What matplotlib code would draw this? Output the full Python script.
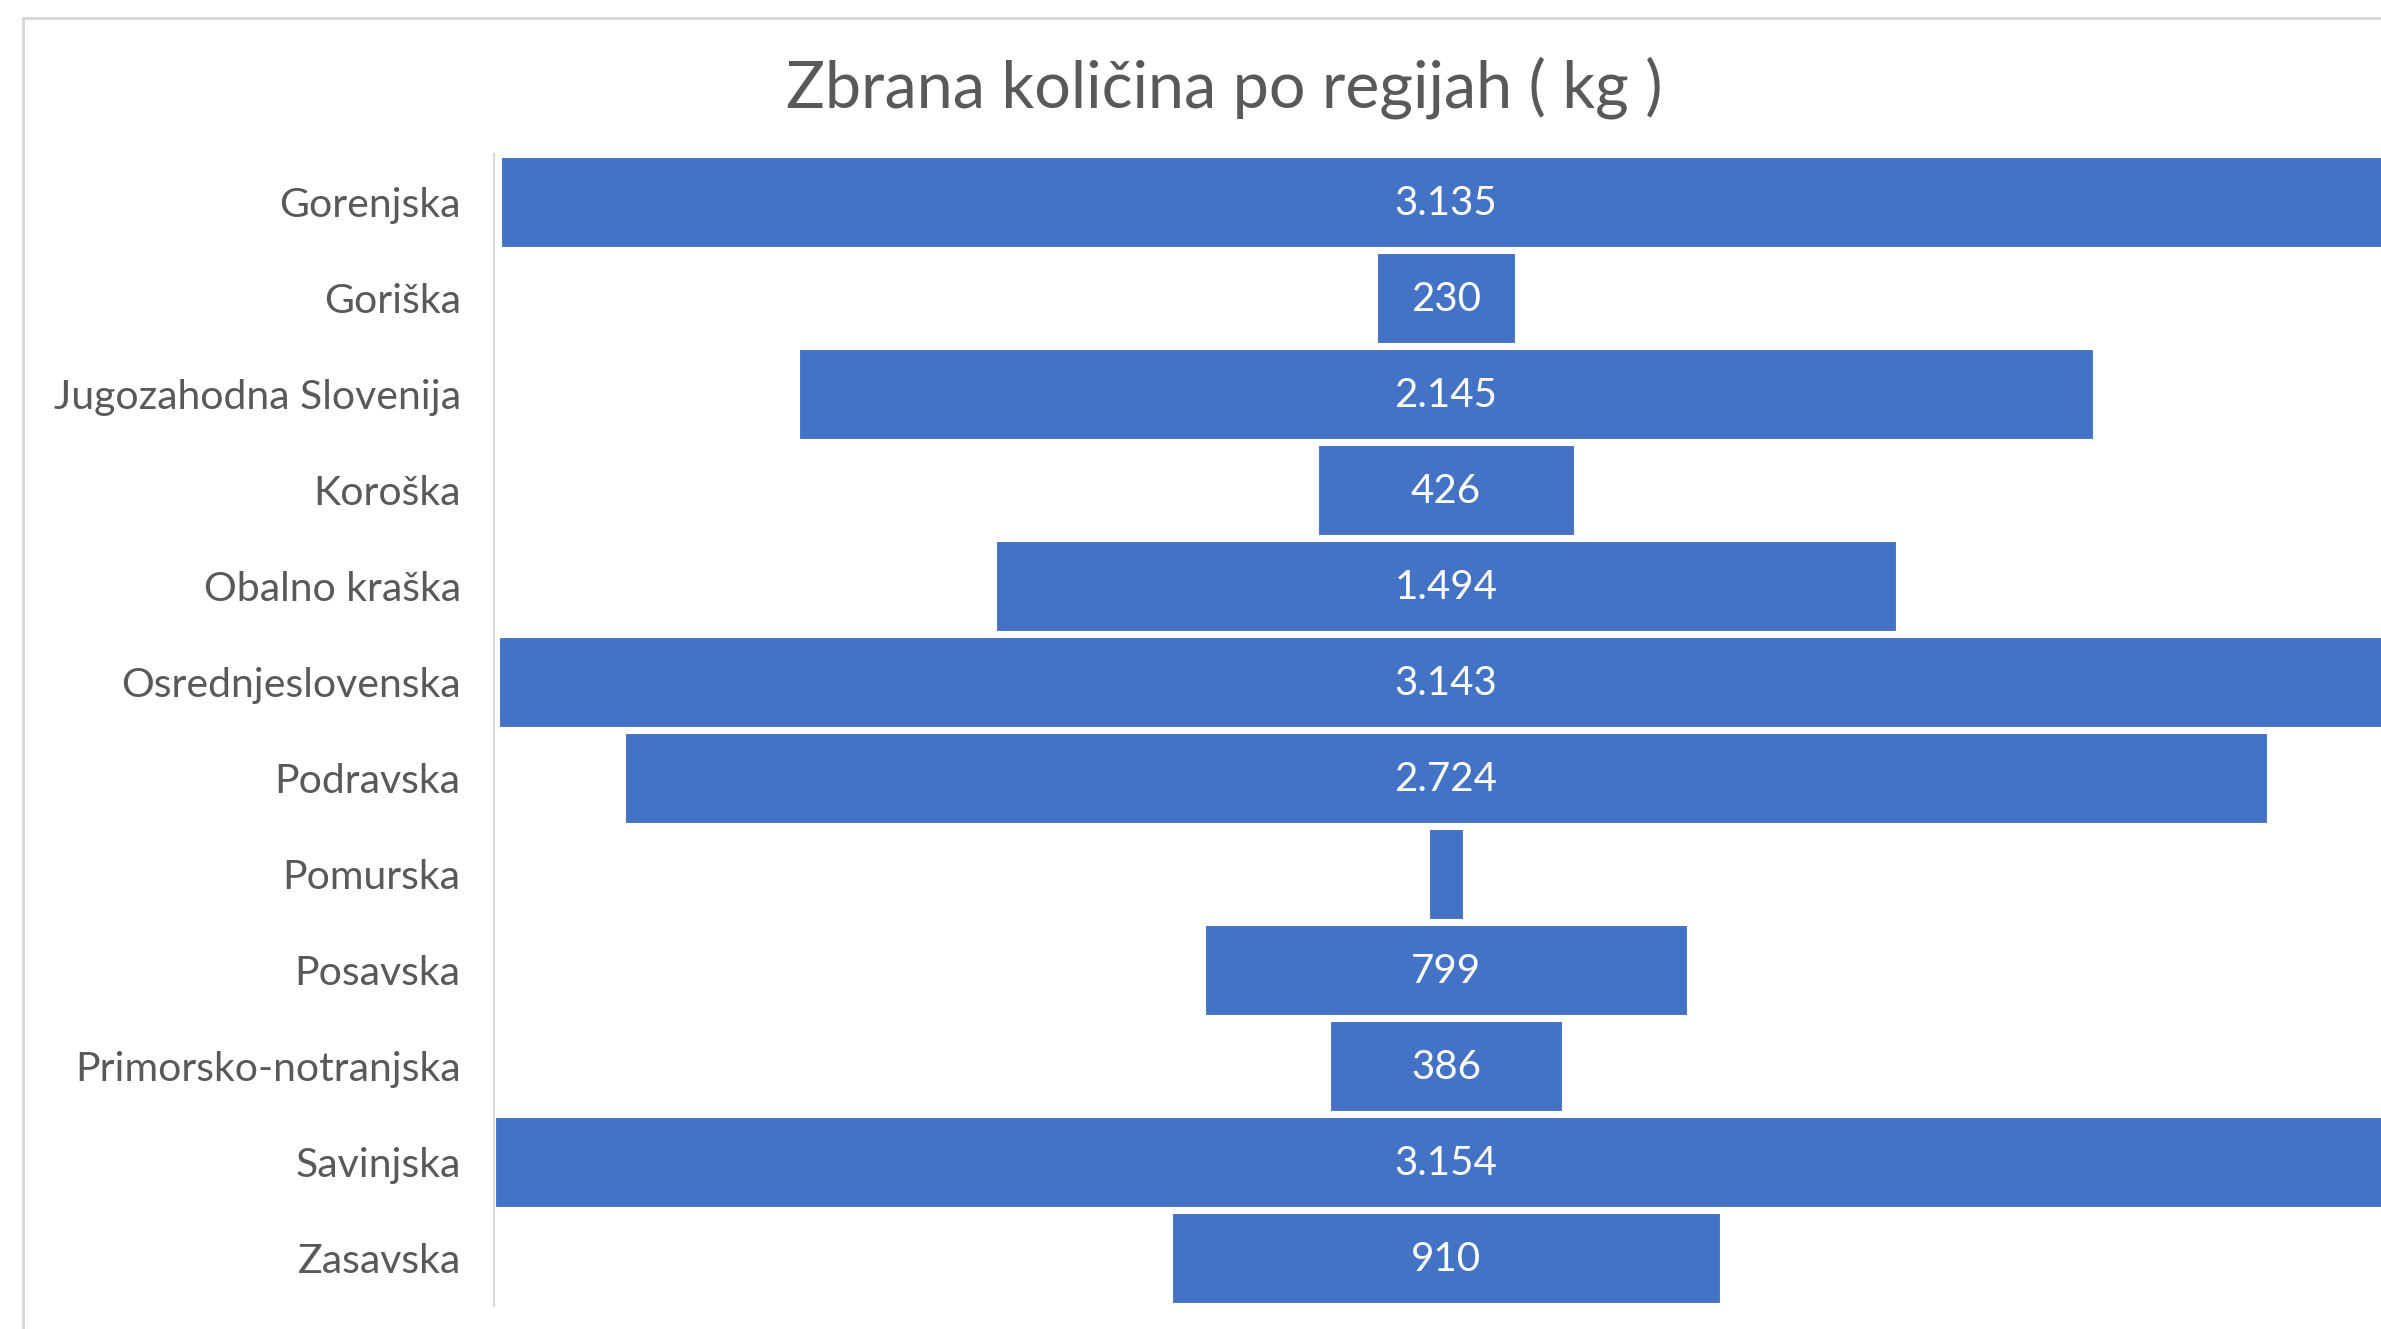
import numpy as np
import matplotlib
matplotlib.use('Agg')
import matplotlib.pyplot as plt
from matplotlib.patches import Rectangle

plt.rcParams['font.family'] = ['Lato', 'DejaVu Sans']

# Data
regions = ['Gorenjska', 'Goriška', 'Jugozahodna Slovenija', 'Koroška', 'Obalno kraška',
           'Osrednjeslovenska', 'Podravska', 'Pomurska', 'Posavska', 'Primorsko-notranjska',
           'Savinjska', 'Zasavska']
amounts = [3135, 230, 2145, 426, 1494, 3143, 2724, 55, 799, 386, 3154, 910]
title = 'Zbrana količina po regijah ( kg )'

BAR_COLOR = '#4472C4'
TEXT_COLOR = '#595959'
AXIS_COLOR = '#D9D9D9'

W, H = 2381, 1329
fig = plt.figure(figsize=(W / 100, H / 100), dpi=100)

# chart area border (cropped on right / bottom like the screenshot)
fig.patches.append(Rectangle((23 / W, -0.05), 1.1, 1 - 18 / H + 0.05, transform=fig.transFigure,
                             fill=False, edgecolor=AXIS_COLOR, linewidth=2.2))

ax = fig.add_axes([494 / W, 1 - 1306 / H, 1904 / W, 1152 / H])

vals = np.array(amounts, dtype=float)
y = np.arange(len(regions))
ax.barh(y, vals, left=-vals / 2, height=0.93, color=BAR_COLOR, edgecolor='white', linewidth=0.8)

half = 1579
ax.set_xlim(-half, half)
ax.set_ylim(len(regions) - 0.5, -0.5)

# data labels, skipped where the bar is too narrow (as Excel does)
for yi, v in zip(y, amounts):
    if v < 150:
        continue
    txt = f'{v:,}'.replace(',', '.')
    ax.text(0, yi + 0.02, txt, ha='center', va='center', color='white', fontsize=29)

ax.set_yticks(y)
ax.set_yticklabels(regions, fontsize=29.5, color=TEXT_COLOR)
ax.tick_params(axis='y', length=0, pad=24)
ax.set_xticks([])
for s in ['top', 'right', 'bottom']:
    ax.spines[s].set_visible(False)
ax.spines['left'].set_color(AXIS_COLOR)
ax.spines['left'].set_linewidth(1.5)

fig.text(1224 / W, 1 - 88 / H, title, ha='center', va='center', fontsize=46.5, color=TEXT_COLOR)

fig.savefig('out.png', dpi=100, facecolor='white')
